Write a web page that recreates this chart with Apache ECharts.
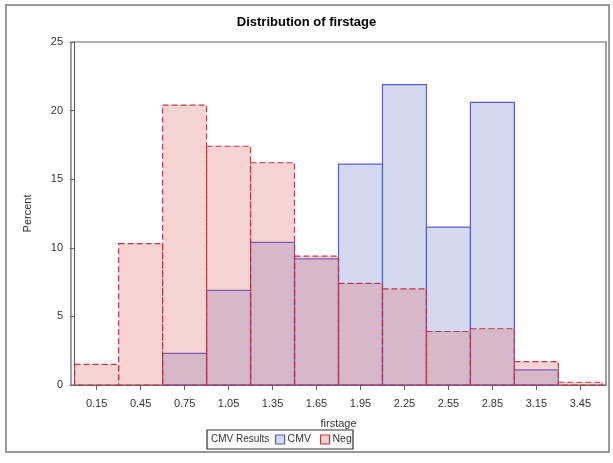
<!DOCTYPE html>
<html>
<head>
<meta charset="utf-8">
<script src="https://cdn.jsdelivr.net/npm/echarts@6/dist/echarts.min.js"></script>
<style>html,body{margin:0;padding:0;background:#fff}#c{width:613px;height:463px}</style>
</head>
<body>
<div id="c"></div>
<script>
// ---- data ----
const binLabels = ['0.15','0.45','0.75','1.05','1.35','1.65','1.95','2.25','2.55','2.85','3.15','3.45'];
const binWidth = 0.3;
const cmvValues = [0, 0, 2.3, 6.9, 10.4, 9.2, 16.1, 21.9, 11.5, 20.6, 1.1, 0];
const negValues = [1.5, 10.3, 20.4, 17.4, 16.2, 9.4, 7.4, 7.0, 3.9, 4.1, 1.7, 0.2];
const yTicks = [0, 5, 10, 15, 20, 25];

const centers = binLabels.map(Number);
function toBins(vals) {
  return vals.map((v, i) => [centers[i] - binWidth / 2, centers[i] + binWidth / 2, v]).filter(d => d[2] > 0);
}

const FONT = 'Liberation Sans, Arial, sans-serif';
const chart = echarts.init(document.getElementById('c'), null, {renderer: 'canvas'});

function makeRender(fill, stroke, dash) {
  return function (params, api) {
    const p1 = api.coord([api.value(0), api.value(2)]);
    const p2 = api.coord([api.value(1), 0]);
    return {
      type: 'rect',
      shape: {x: p1[0], y: p1[1], width: p2[0] - p1[0], height: p2[1] - p1[1]},
      style: {fill: fill, stroke: stroke, lineWidth: 1.2, lineDash: dash}
    };
  };
}

chart.setOption({
  animation: false,
  title: {
    text: 'Distribution of firstage', left: 'center', top: 11,
    textStyle: {fontFamily: FONT, fontSize: 13, fontWeight: 'bold', color: '#000'}
  },
  grid: {left: 71, right: 7, top: 42, bottom: 78, show: true, borderColor: '#666', borderWidth: 1.2},
  xAxis: {
    type: 'value', min: -0.025, max: 3.625,
    name: 'firstage', nameLocation: 'middle', nameGap: 33,
    nameTextStyle: {fontFamily: FONT, fontSize: 11, color: '#333'},
    axisLine: {show: true, lineStyle: {color: '#666', width: 1.2}},
    axisTick: {show: true, length: 5, customValues: centers, lineStyle: {color: '#666'}},
    axisLabel: {customValues: centers, formatter: v => v.toFixed(2), fontFamily: FONT, fontSize: 11, color: '#333', margin: 13},
    splitLine: {show: false}
  },
  yAxis: {
    type: 'value', min: 0, max: 25, interval: 5,
    name: 'Percent', nameLocation: 'middle', nameGap: 38, nameRotate: 90,
    nameTextStyle: {fontFamily: FONT, fontSize: 11, color: '#333'},
    axisLine: {show: true, lineStyle: {color: '#666', width: 1.2}},
    axisTick: {show: true, length: 5, customValues: yTicks, lineStyle: {color: '#666'}},
    axisLabel: {customValues: yTicks, fontFamily: FONT, fontSize: 11, color: '#333', margin: 8},
    splitLine: {show: false}
  },
  legend: {
    data: [
      {name: 'CMV', itemStyle: {color: '#d4daef', borderColor: '#5b5bd6', borderWidth: 1.2}},
      {name: 'Neg', itemStyle: {color: '#f5d1d1', borderColor: '#c8324a', borderWidth: 1.2}}
    ],
    icon: 'rect', itemWidth: 9, itemHeight: 9, itemGap: 9, padding: 0,
    left: 275, top: 434,
    textStyle: {fontFamily: FONT, fontSize: 10.5, color: '#333', padding: [0, 0, 0, -2]}
  },
  graphic: [
    {type: 'rect', shape: {x: 6, y: 5, width: 603, height: 447}, style: {fill: 'none', stroke: '#999', lineWidth: 2}, silent: true},
    {type: 'rect', shape: {x: 207, y: 430, width: 146, height: 19}, style: {fill: 'none', stroke: '#333', lineWidth: 1.2}, silent: true},
    {type: 'text', x: 211, y: 434, style: {text: 'CMV Results', font: '10px ' + FONT, fill: '#333'}, silent: true}
  ],
  series: [
    {name: 'CMV', type: 'custom', data: toBins(cmvValues), encode: {x: [0, 1], y: 2},
     renderItem: makeRender('rgba(112,130,205,0.3)', '#5b5bd6', null), itemStyle: {color: '#d4daef'}},
    {name: 'Neg', type: 'custom', data: toBins(negValues), encode: {x: [0, 1], y: 2},
     renderItem: makeRender('rgba(222,95,95,0.27)', '#c8324a', [6, 3]), itemStyle: {color: '#f5d1d1'}}
  ]
});
</script>
</body>
</html>
